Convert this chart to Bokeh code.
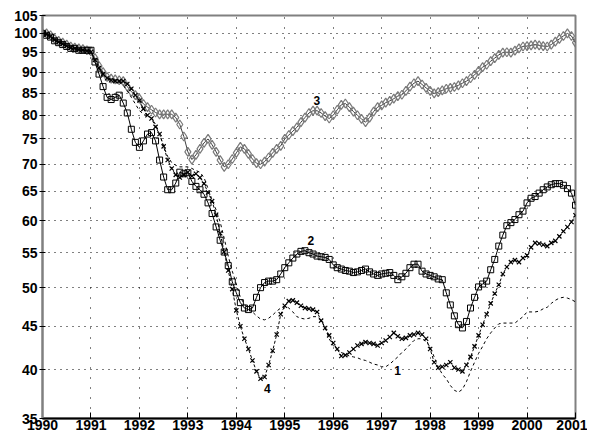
from bokeh.plotting import figure
from bokeh.models import Range1d, FixedTicker, NumeralTickFormatter
from bokeh.core.properties import value
from bokeh.embed import file_html
from bokeh.resources import INLINE

months = [1990 + i / 12 for i in range(133)]

series1 = [
    100, 99.8, 99.3, 98.5, 97.8, 97.3, 96.8, 96.3, 96, 95.8, 95.6, 95.4,
    95.2, 93, 91, 89.5, 88.6, 88.2, 88, 87.5, 86.8, 85.5, 84, 82.5,
    81, 80.3, 79.8, 79.4, 78, 76, 73.5, 71.5, 70.3, 69.8, 69.5, 69.5,
    69.5, 69.2, 68.8, 68.5, 67.5, 65.5, 63.5, 61.8, 59.8, 57.2, 54.5, 52.3,
    50.5, 48.7, 47.8, 47.3, 46.8, 46.3, 45.9, 45.8, 46, 46.4, 46.9, 47.3,
    47.6, 47.3, 46.8, 46.2, 46, 45.9, 46, 46.2, 46.2, 45.8, 44.8, 43.5,
    42.7, 42.2, 41.9, 41.7, 41.5, 41.4, 41.3, 41.1, 41, 40.8, 40.6, 40.5,
    40.3, 40.3, 40.6, 41, 41.4, 41.9, 42.3, 42.8, 43.3, 43.5, 43.5, 43.2,
    42.5, 41.4, 40.3, 39.5, 39, 38.3, 37.8, 37.6, 37.9, 38.7, 39.8, 40.8,
    41.8, 42.6, 43.5, 44.2, 44.8, 45.3, 45.4, 45.4, 45.4, 45.4, 45.8, 46.2,
    46.8, 46.8, 46.8, 46.9, 47.2, 47.4, 47.9, 48.3, 48.6, 48.7, 48.6, 48.4,
    48.1,
]

series2 = [
    100, 99.5, 99, 98, 97.5, 97, 96.5, 96, 96, 95.5, 95.5, 95.5,
    95.5, 92.5, 89.5, 86.5, 84, 83.5, 84, 84.5, 82.7, 80.5, 77, 74.3,
    73.3, 74.6, 76, 76.3, 74.6, 70.8, 67.6, 65.3, 65.3, 66.5, 68.5, 68.2,
    68.4, 66.8, 65.9, 65.3, 64.5, 63, 61.2, 59, 56.9, 55.1, 53.1, 50.8,
    49.3, 48, 47.3, 47.1, 47.3, 48.7, 50, 50.7, 50.9, 50.9, 51.1, 51.9,
    52.8, 53.5, 54.2, 54.8, 55.2, 55.3, 55, 54.8, 54.5, 54.4, 54.3, 54,
    53.2, 52.8, 52.6, 52.4, 52.3, 52.1, 52.2, 52.4, 52.6, 52.2, 51.9, 51.7,
    51.9, 52, 52.1, 51.7, 51.1, 51.5, 52, 52.8, 53.3, 53.3, 52.3, 51.9,
    51.7, 51.5, 51.2, 51.1, 49.3, 47.7, 46.3, 45.2, 44.8, 45.6, 47.3, 48.7,
    50.1, 50.5, 50.9, 52.5, 54, 56, 57.7, 59.2, 59.7, 60.2, 61, 61.6,
    63, 63.8, 64.1, 64.7, 65.3, 65.8, 66.2, 66.4, 66.4, 66.1, 65.5, 64.7,
    62.6,
]

series3 = [
    100, 100, 99.5, 98.5, 98, 97.5, 97, 96.5, 96.2, 96, 95.8, 95.5,
    95.2, 93.5, 91.5, 90, 88.8, 88.4, 88.2, 88, 87.8, 86.5, 85.3, 84.5,
    83.7, 82.5, 81.8, 81.2, 80.6, 80.2, 80.2, 80.2, 80.2, 79.5, 78, 75.5,
    72.4, 70.9, 71.8, 73, 74.2, 75, 73.8, 72.4, 70.8, 69.5, 70, 71,
    72.2, 73.4, 73, 72, 71, 70.2, 70, 70.5, 71.3, 72.2, 73, 73.6,
    75, 75.8, 76.6, 77.4, 78.5, 79.5, 80.5, 81, 81, 80.5, 79.8, 79.3,
    80, 81.2, 82.3, 82.6, 81.8, 80.8, 80, 79.2, 78.5, 79.5, 80.8, 81.8,
    82.2, 82.8, 83.2, 83.7, 84.3, 84.6, 85.5, 86.5, 87.3, 87.8, 87, 86.2,
    85.5, 84.9, 85.2, 85.6, 86, 86.2, 86.4, 86.8, 87.3, 87.8, 88.5, 89.3,
    90.3, 91.2, 91.8, 92.7, 93.5, 94.3, 94.9, 95, 94.9, 95.4, 96, 96.5,
    96.6, 96.8, 97, 96.8, 96.6, 96.5, 97, 97.8, 98.5, 99.3, 100, 99.3,
    97.5,
]

series4 = [
    100, 99.8, 99.2, 98.3, 97.7, 97.2, 96.7, 96.2, 96, 95.7, 95.5, 95.3,
    95, 93, 91, 89.5, 88.5, 88, 87.8, 87.8, 87.8, 87.1, 86, 84.5,
    83.3, 81.4, 80, 79.3, 77.5, 76, 73.5, 70.8, 69.2, 68, 67.5, 68,
    68.5, 67.8, 68.2, 67.5, 66.4, 64.8, 63.3, 61, 58, 55.1, 52.4, 49.8,
    47, 45, 43.5, 42.3, 41, 39.8, 39, 39.2, 40.5, 42.1, 44, 46.5,
    47.6, 48.2, 48.3, 48, 47.6, 47.3, 47.2, 47.1, 46.8, 45.7, 44.8, 43.9,
    43, 42.3, 41.5, 41.6, 41.9, 42.3, 42.7, 42.9, 43.1, 43, 42.9, 42.7,
    43, 43.3, 43.7, 44.2, 43.8, 43.5, 43.6, 43.9, 44, 44.2, 44, 43.5,
    42.3, 40.8, 40.2, 40.3, 40.5, 40.8, 40.2, 40, 39.8, 40.5, 41.4, 42.6,
    43.9, 45.2, 46.5, 47.9, 49.2, 50.4, 51.9, 52.9, 53.6, 53.9, 53.6, 54.2,
    54.6, 55.8, 56.5, 56.4, 56.2, 56, 56.5, 56.8, 57.5, 58.3, 59, 59.8,
    60.9,
]

y_ticks = [35, 40, 45, 50, 55, 60, 65, 70, 75, 80, 85, 90, 95, 100, 105]
x_ticks = list(range(1990, 2002))

label_text = ["1", "2", "3", "4"]
label_x = [1997.33, 1995.54, 1995.66, 1994.64]
label_y = [39.9, 56.9, 83.2, 38.0]

FONT = "Liberation Sans"

p = figure(
    width=587, height=432,
    y_axis_type="log",
    x_range=Range1d(1990, 2001), y_range=Range1d(35, 105),
    output_backend="svg", toolbar_location=None,
    min_border_left=42, min_border_top=15, min_border_right=12, min_border_bottom=0,
)
p.background_fill_color = "white"
p.border_fill_color = "white"
p.outline_line_color = "#808080"
p.outline_line_width = 2

yt = FixedTicker(ticks=y_ticks)
xt = FixedTicker(ticks=x_ticks)

p.yaxis.ticker = yt
p.yaxis.formatter = NumeralTickFormatter(format="0")
p.xaxis.ticker = xt
p.xaxis.formatter = NumeralTickFormatter(format="0")
p.yaxis.minor_tick_line_color = None
p.xaxis.minor_tick_line_color = None
for ax in (p.xaxis, p.yaxis):
    ax.major_label_text_font = FONT
    ax.major_label_text_font_style = "bold"
    ax.major_label_text_color = "black"
    ax.major_label_text_font_size = "14px"
p.yaxis.axis_line_color = "#808080"
p.yaxis.axis_line_width = 2
p.yaxis.major_tick_line_color = "black"
p.yaxis.major_tick_in = 3
p.yaxis.major_tick_out = 3
p.yaxis.major_label_standoff = 2
p.xaxis.axis_line_color = "black"
p.xaxis.axis_line_width = 2
p.xaxis.major_tick_line_color = "black"
p.xaxis.major_tick_in = 6
p.xaxis.major_tick_out = 0
p.xaxis.major_label_standoff = 1

# dotted grid
p.xgrid.ticker = xt
p.ygrid.ticker = yt
p.xgrid.grid_line_color = "#000000"
p.xgrid.grid_line_width = 1
p.xgrid.grid_line_alpha = 1
p.xgrid.grid_line_dash = "1 9"
p.ygrid.grid_line_color = "#000000"
p.ygrid.grid_line_width = 1
p.ygrid.grid_line_alpha = 1
p.ygrid.grid_line_dash = "1 5"

p.line(months, series3, line_color="#404040", line_width=1)
p.scatter(months, series3, marker="diamond", size=9, fill_alpha=0,
          line_color="#7a7a7a", line_width=1.2)
p.line(months, series1, line_color="black", line_width=1, line_dash="3 3")
p.line(months, series4, line_color="black", line_width=1, line_dash="3 2")
p.scatter(months, series4, marker="x", size=6, line_color="black", line_width=1.2)
p.line(months, series2, line_color="black", line_width=1)
p.scatter(months, series2, marker="square", size=6, fill_alpha=0,
          line_color="black", line_width=1)

p.text(label_x, label_y, text=label_text, text_font=value(FONT),
       text_font_style="bold", text_font_size="12px", text_color="black",
       text_align="center", text_baseline="middle")

open("out.html", "w").write(file_html(p, INLINE))
